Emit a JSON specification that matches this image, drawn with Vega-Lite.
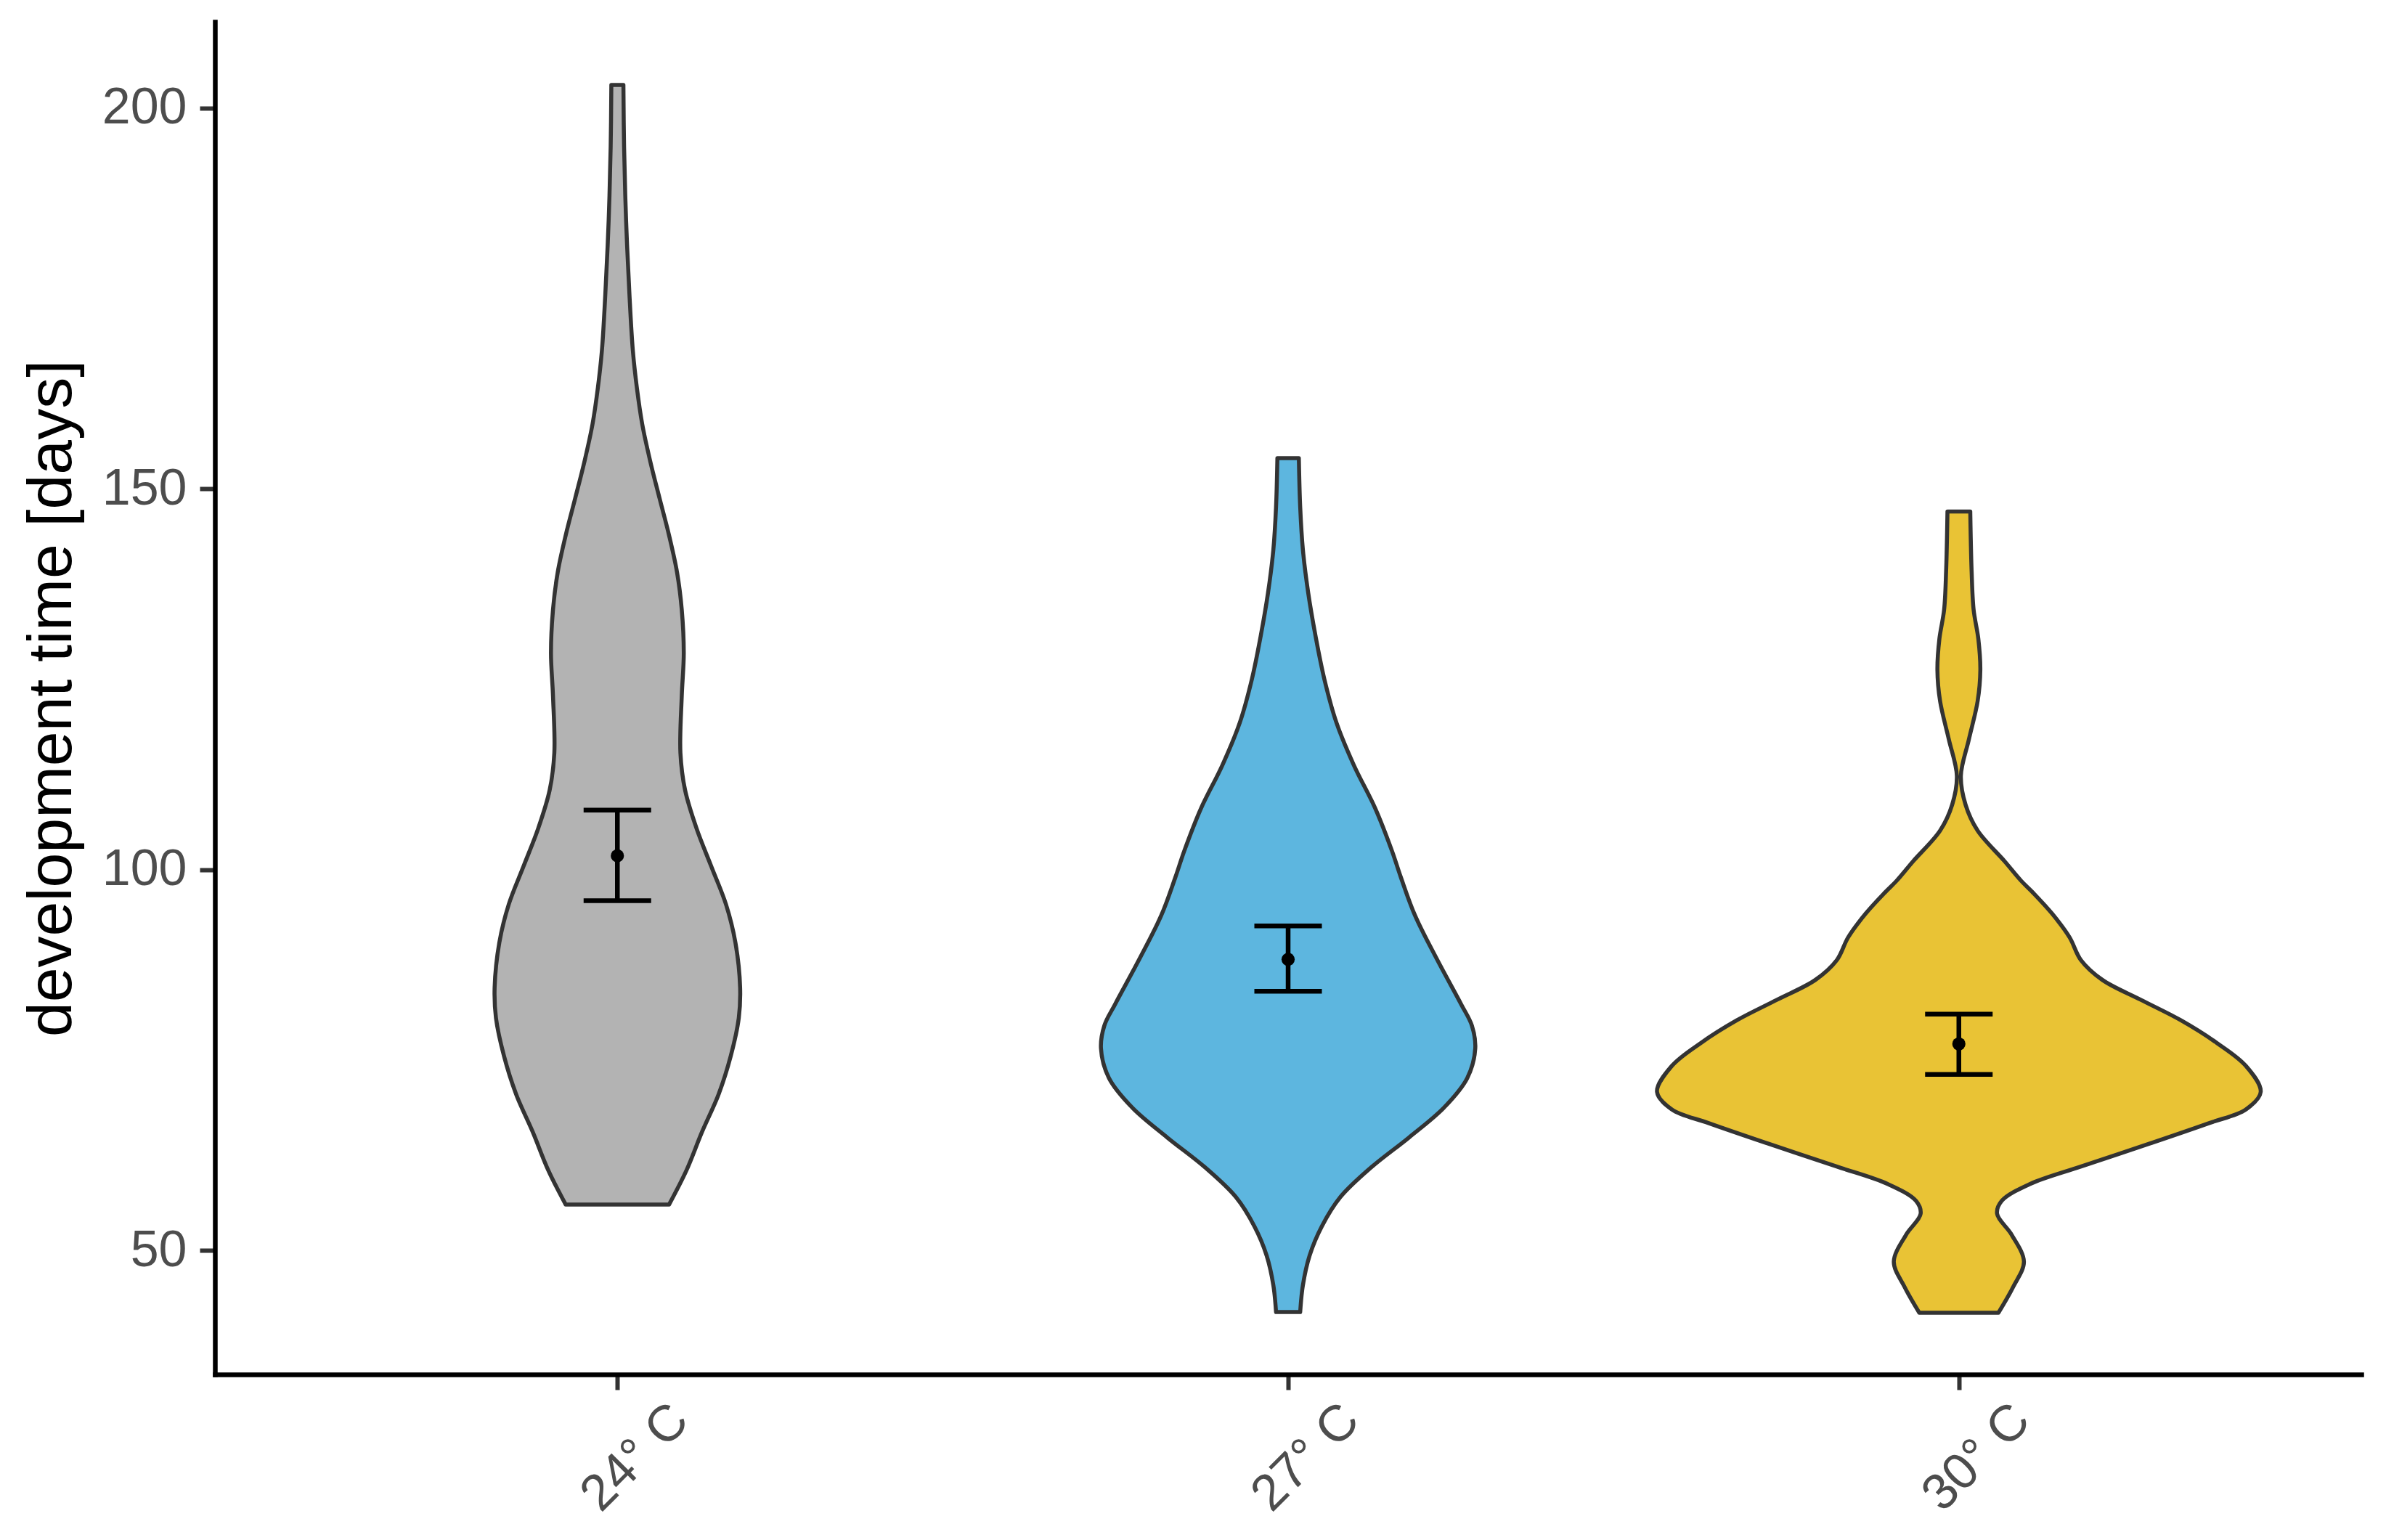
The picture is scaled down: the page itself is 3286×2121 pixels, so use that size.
{
  "$schema": "https://vega.github.io/schema/vega-lite/v6.json",
  "width": 2956,
  "height": 1863,
  "autosize": {"type": "none"},
  "padding": {"left": 296, "top": 30, "right": 34, "bottom": 228},
  "background": "white",
  "config": {
    "view": {"stroke": null},
    "font": "Liberation Sans",
    "axisX": {
      "grid": false,
      "labelAngle": -45,
      "labelAlign": "center",
      "labelBaseline": "top",
      "labelPadding": 69,
      "labelFontSize": 70,
      "labelColor": "#4D4D4D",
      "labelFont": "Liberation Sans",
      "labelOverlap": false,
      "labelFlush": false,
      "labelBound": false,
      "tickSize": 21,
      "tickWidth": 6,
      "tickColor": "#333333",
      "domainColor": "#000000",
      "domainWidth": 6.5,
      "domainCap": "square"
    },
    "axisY": {
      "grid": false,
      "labelPadding": 18,
      "labelFontSize": 70,
      "labelColor": "#4D4D4D",
      "labelFont": "Liberation Sans",
      "labelOverlap": false,
      "labelFlush": false,
      "labelBound": false,
      "tickSize": 21,
      "tickWidth": 6,
      "tickColor": "#333333",
      "domainColor": "#000000",
      "domainWidth": 6.5,
      "domainCap": "square",
      "titleFont": "Liberation Sans",
      "titleFontSize": 86,
      "titleFontWeight": "normal",
      "titleColor": "#000000",
      "titlePadding": 25
    }
  },
  "datasets": {
    "violin": [
      {"temp": "24° C", "days": 56.0, "hw": 0.077},
      {"temp": "24° C", "days": 60.5, "hw": 0.103},
      {"temp": "24° C", "days": 65.5, "hw": 0.126},
      {"temp": "24° C", "days": 70.5, "hw": 0.151},
      {"temp": "24° C", "days": 75.5, "hw": 0.169},
      {"temp": "24° C", "days": 80.5, "hw": 0.181},
      {"temp": "24° C", "days": 84.5, "hw": 0.183},
      {"temp": "24° C", "days": 90.4, "hw": 0.176},
      {"temp": "24° C", "days": 95.4, "hw": 0.162},
      {"temp": "24° C", "days": 100.4, "hw": 0.140},
      {"temp": "24° C", "days": 105.4, "hw": 0.118},
      {"temp": "24° C", "days": 110.4, "hw": 0.101},
      {"temp": "24° C", "days": 115.3, "hw": 0.094},
      {"temp": "24° C", "days": 122.8, "hw": 0.096},
      {"temp": "24° C", "days": 128.4, "hw": 0.099},
      {"temp": "24° C", "days": 134.1, "hw": 0.096},
      {"temp": "24° C", "days": 139.0, "hw": 0.089},
      {"temp": "24° C", "days": 143.9, "hw": 0.077},
      {"temp": "24° C", "days": 148.7, "hw": 0.063},
      {"temp": "24° C", "days": 153.6, "hw": 0.049},
      {"temp": "24° C", "days": 158.5, "hw": 0.037},
      {"temp": "24° C", "days": 163.3, "hw": 0.029},
      {"temp": "24° C", "days": 168.2, "hw": 0.023},
      {"temp": "24° C", "days": 175.5, "hw": 0.018},
      {"temp": "24° C", "days": 185.2, "hw": 0.013},
      {"temp": "24° C", "days": 194.9, "hw": 0.010},
      {"temp": "24° C", "days": 203.0, "hw": 0.009},
      {"temp": "27° C", "days": 41.9, "hw": 0.018},
      {"temp": "27° C", "days": 45.4, "hw": 0.022},
      {"temp": "27° C", "days": 49.3, "hw": 0.032},
      {"temp": "27° C", "days": 53.1, "hw": 0.050},
      {"temp": "27° C", "days": 57.0, "hw": 0.078},
      {"temp": "27° C", "days": 60.9, "hw": 0.124},
      {"temp": "27° C", "days": 64.8, "hw": 0.180},
      {"temp": "27° C", "days": 68.7, "hw": 0.232},
      {"temp": "27° C", "days": 72.6, "hw": 0.267},
      {"temp": "27° C", "days": 76.5, "hw": 0.279},
      {"temp": "27° C", "days": 79.5, "hw": 0.274},
      {"temp": "27° C", "days": 82.3, "hw": 0.258},
      {"temp": "27° C", "days": 88.2, "hw": 0.222},
      {"temp": "27° C", "days": 94.0, "hw": 0.189},
      {"temp": "27° C", "days": 99.0, "hw": 0.168},
      {"temp": "27° C", "days": 102.4, "hw": 0.155},
      {"temp": "27° C", "days": 108.0, "hw": 0.130},
      {"temp": "27° C", "days": 113.7, "hw": 0.098},
      {"temp": "27° C", "days": 119.3, "hw": 0.072},
      {"temp": "27° C", "days": 125.0, "hw": 0.054},
      {"temp": "27° C", "days": 130.6, "hw": 0.041},
      {"temp": "27° C", "days": 136.3, "hw": 0.030},
      {"temp": "27° C", "days": 142.0, "hw": 0.022},
      {"temp": "27° C", "days": 147.6, "hw": 0.018},
      {"temp": "27° C", "days": 154.0, "hw": 0.016},
      {"temp": "30° C", "days": 41.8, "hw": 0.059},
      {"temp": "30° C", "days": 45.2, "hw": 0.081},
      {"temp": "30° C", "days": 48.5, "hw": 0.097},
      {"temp": "30° C", "days": 52.0, "hw": 0.079},
      {"temp": "30° C", "days": 54.8, "hw": 0.057},
      {"temp": "30° C", "days": 56.5, "hw": 0.064},
      {"temp": "30° C", "days": 58.7, "hw": 0.106},
      {"temp": "30° C", "days": 61.0, "hw": 0.182},
      {"temp": "30° C", "days": 64.0, "hw": 0.284},
      {"temp": "30° C", "days": 66.7, "hw": 0.373},
      {"temp": "30° C", "days": 68.5, "hw": 0.428},
      {"temp": "30° C", "days": 70.8, "hw": 0.450},
      {"temp": "30° C", "days": 74.2, "hw": 0.428},
      {"temp": "30° C", "days": 77.2, "hw": 0.385},
      {"temp": "30° C", "days": 80.2, "hw": 0.331},
      {"temp": "30° C", "days": 82.9, "hw": 0.271},
      {"temp": "30° C", "days": 85.5, "hw": 0.214},
      {"temp": "30° C", "days": 88.1, "hw": 0.182},
      {"temp": "30° C", "days": 91.1, "hw": 0.165},
      {"temp": "30° C", "days": 94.2, "hw": 0.139},
      {"temp": "30° C", "days": 97.0, "hw": 0.110},
      {"temp": "30° C", "days": 98.5, "hw": 0.093},
      {"temp": "30° C", "days": 101.1, "hw": 0.068},
      {"temp": "30° C", "days": 105.1, "hw": 0.028},
      {"temp": "30° C", "days": 108.5, "hw": 0.010},
      {"temp": "30° C", "days": 112.3, "hw": 0.003},
      {"temp": "30° C", "days": 117.1, "hw": 0.015},
      {"temp": "30° C", "days": 122.1, "hw": 0.028},
      {"temp": "30° C", "days": 126.2, "hw": 0.032},
      {"temp": "30° C", "days": 130.3, "hw": 0.029},
      {"temp": "30° C", "days": 134.1, "hw": 0.022},
      {"temp": "30° C", "days": 139.2, "hw": 0.019},
      {"temp": "30° C", "days": 147.0, "hw": 0.017}
    ],
    "stats": [
      {"temp": "24° C", "mean": 101.8, "lower": 95.9, "upper": 107.8},
      {"temp": "27° C", "mean": 88.2, "lower": 84.0, "upper": 92.6},
      {"temp": "30° C", "mean": 77.1, "lower": 73.1, "upper": 81.0}
    ]
  },
  "layer": [
    {
      "data": {"name": "violin"},
      "transform": [
        {"calculate": "indexof(['24° C','27° C','30° C'], datum.temp) + 1", "as": "idx"},
        {"calculate": "datum.idx - datum.hw", "as": "lo"},
        {"calculate": "datum.idx + datum.hw", "as": "hi"}
      ],
      "mark": {"type": "area", "orient": "horizontal", "interpolate": "catmull-rom", "stroke": "#333333", "strokeWidth": 5.5, "fillOpacity": 1, "strokeJoin": "round"},
      "encoding": {
        "y": {
          "field": "days", "type": "quantitative",
          "scale": {"domain": [33.7, 211.3], "nice": false, "zero": false},
          "axis": {"values": [50, 100, 150, 200], "title": "development time [days]"}
        },
        "x": {
          "field": "lo", "type": "quantitative",
          "scale": {"domain": [0.4, 3.6], "nice": false, "zero": false},
          "axis": {"values": [1, 2, 3], "title": null, "labelExpr": "datum.value == 1 ? '24° C' : (datum.value == 2 ? '27° C' : '30° C')"}
        },
        "x2": {"field": "hi"},
        "fill": {
          "field": "temp", "type": "nominal",
          "scale": {"domain": ["24° C", "27° C", "30° C"], "range": ["#B3B3B3", "#5DB6DF", "#E9C335"]},
          "legend": null
        }
      }
    },
    {
      "data": {"name": "stats"},
      "transform": [
        {"calculate": "indexof(['24° C','27° C','30° C'], datum.temp) + 1", "as": "idx"}
      ],
      "layer": [
        {
          "mark": {"type": "rule", "color": "#000000", "strokeWidth": 6.5},
          "encoding": {
            "x": {"field": "idx", "type": "quantitative", "scale": {"domain": [0.4, 3.6], "nice": false, "zero": false}, "title": null},
            "y": {"field": "lower", "type": "quantitative", "scale": {"domain": [33.7, 211.3], "nice": false, "zero": false}, "title": "development time [days]"},
            "y2": {"field": "upper"}
          }
        },
        {
          "mark": {"type": "tick", "orient": "horizontal", "size": 93, "thickness": 6.5, "color": "#000000", "opacity": 1},
          "encoding": {
            "x": {"field": "idx", "type": "quantitative", "scale": {"domain": [0.4, 3.6], "nice": false, "zero": false}, "title": null},
            "y": {"field": "upper", "type": "quantitative", "scale": {"domain": [33.7, 211.3], "nice": false, "zero": false}, "title": "development time [days]"}
          }
        },
        {
          "mark": {"type": "tick", "orient": "horizontal", "size": 93, "thickness": 6.5, "color": "#000000", "opacity": 1},
          "encoding": {
            "x": {"field": "idx", "type": "quantitative", "scale": {"domain": [0.4, 3.6], "nice": false, "zero": false}, "title": null},
            "y": {"field": "lower", "type": "quantitative", "scale": {"domain": [33.7, 211.3], "nice": false, "zero": false}, "title": "development time [days]"}
          }
        },
        {
          "mark": {"type": "point", "filled": true, "color": "#000000", "size": 330, "opacity": 1},
          "encoding": {
            "x": {"field": "idx", "type": "quantitative", "scale": {"domain": [0.4, 3.6], "nice": false, "zero": false}, "title": null},
            "y": {"field": "mean", "type": "quantitative", "scale": {"domain": [33.7, 211.3], "nice": false, "zero": false}, "title": "development time [days]"}
          }
        }
      ]
    }
  ]
}
